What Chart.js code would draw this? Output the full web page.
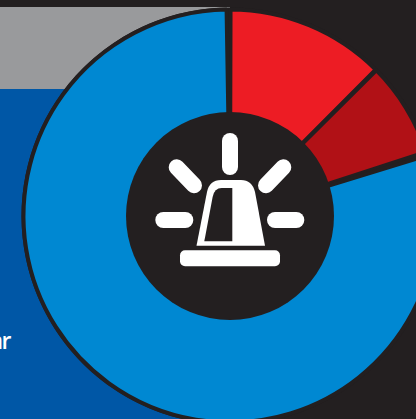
<!DOCTYPE html>
<html>
<head>
<meta charset="utf-8">
<script src="https://cdn.jsdelivr.net/npm/chart.js@4"></script>
<style>
  html, body { margin: 0; padding: 0; width: 416px; height: 419px; overflow: hidden; background: #231f20; }
  #stage { position: relative; width: 416px; height: 419px; overflow: hidden; }
  .panel { position: absolute; }
  #grey { left: 0; top: 7px; width: 230px; height: 82px; background: #999a9c; }
  #blue { left: 0; top: 89px; width: 230px; height: 330px; background: #0057a6; }
  #caption { position: absolute; right: 406px; top: 327px; color: #fff; white-space: nowrap; letter-spacing: -1.5px;
             font: 600 23px "Open Sans", sans-serif; line-height: 26px; }
  #wrap { position: absolute; left: 0; top: 0; width: 460px; height: 432px; }
</style>
</head>
<body>
<div id="stage">
  <div class="panel" id="grey"></div>
  <div class="panel" id="blue"></div>
  <div id="caption">ar</div>
  <div id="wrap"><canvas id="chart" width="460" height="432"></canvas></div>
</div>
<script>
const sliceNames = ['Critical', 'Severe', 'Other'];
const sliceValues = [12.5, 7.5, 80];
const sliceColors = ['#ed1c24', '#b11116', '#0088d2'];
const ink = '#231f20';
const hubRadius = 104;
const rimRadius = 208.5;

function roundedBar(ctx, x, y, w, h, r) {
  ctx.beginPath();
  ctx.roundRect(x, y, w, h, r);
  ctx.fill();
}

function disc(chart, radius) {
  const { x, y } = chart.getDatasetMeta(0).data[0].getProps(['x', 'y'], true);
  const ctx = chart.ctx;
  ctx.fillStyle = ink;
  ctx.beginPath();
  ctx.arc(x, y, radius, 0, Math.PI * 2);
  ctx.fill();
  return { x, y };
}

// Dark backing disc under the slices, then the hub with the beacon pictogram on top.
const beaconHub = {
  id: 'beaconHub',
  beforeDatasetsDraw(chart) {
    chart.ctx.save();
    disc(chart, rimRadius);
    chart.ctx.restore();
  },
  afterDatasetsDraw(chart) {
    const ctx = chart.ctx;
    ctx.save();
    const { x, y } = disc(chart, hubRadius);

    ctx.translate(x, y);
    ctx.fillStyle = '#fff';

    // Base plate
    roundedBar(ctx, -50, 34.3, 100, 16, 5);

    // Rays around the lamp
    ctx.lineCap = 'round';
    ctx.lineWidth = 16;
    ctx.strokeStyle = '#fff';
    const rays = [
      [0, -75, 0, -49],
      [-53.3, -48.7, -36, -30.7],
      [53.3, -48.7, 36, -30.7],
      [-66.7, 4, -44.7, 4],
      [66.3, 4, 45, 4]
    ];
    rays.forEach(([x1, y1, x2, y2]) => {
      ctx.beginPath();
      ctx.moveTo(x1, y1);
      ctx.lineTo(x2, y2);
      ctx.stroke();
    });

    // Lamp dome
    ctx.beginPath();
    ctx.moveTo(-33.5, 29.7);
    ctx.lineTo(-23, -24);
    ctx.quadraticCurveTo(-20.5, -36, -9, -36);
    ctx.lineTo(11, -36);
    ctx.quadraticCurveTo(22, -36, 25, -24);
    ctx.lineTo(35, 29.7);
    ctx.closePath();
    ctx.fill();

    // Dark window in the dome
    ctx.fillStyle = ink;
    ctx.beginPath();
    ctx.moveTo(-25.7, 25.3);
    ctx.lineTo(2.3, 25.3);
    ctx.lineTo(2.3, -28);
    ctx.lineTo(-8.3, -28);
    ctx.quadraticCurveTo(-15.5, -28, -17.3, -19.3);
    ctx.closePath();
    ctx.fill();
    ctx.restore();
  }
};

new Chart(document.getElementById('chart'), {
  type: 'doughnut',
  data: {
    labels: sliceNames,
    datasets: [{
      data: sliceValues,
      backgroundColor: sliceColors,
      borderColor: ink,
      borderWidth: 4,
      borderAlign: 'center',
      spacing: 2
    }]
  },
  options: {
    responsive: false,
    animation: false,
    radius: 205.5,
    cutout: 100,
    layout: { padding: 0 },
    plugins: { legend: { display: false }, tooltip: { enabled: false } }
  },
  plugins: [beaconHub]
});
</script>
</body>
</html>
